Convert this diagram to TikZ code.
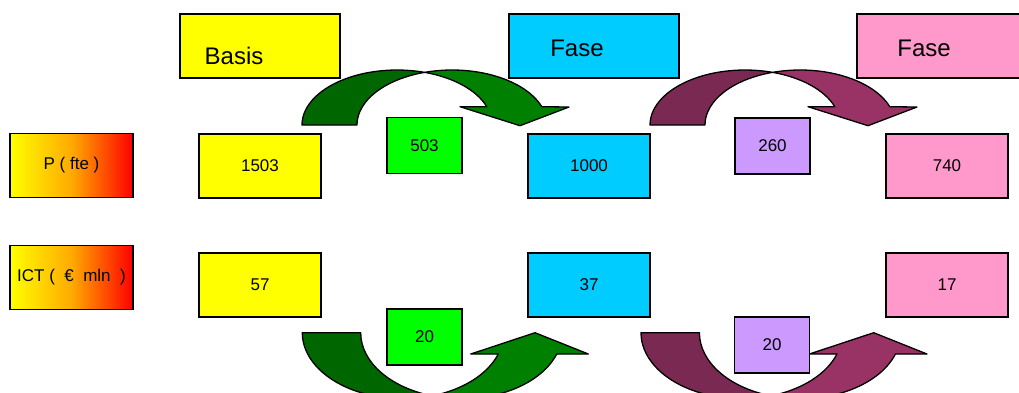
\documentclass[tikz,border=0pt]{standalone}
\usepackage{fontspec}
\setmainfont{Liberation Sans}
\usepackage{xcolor}
\usetikzlibrary{positioning}
\definecolor{basisyellow}{RGB}{255,255,0}
\definecolor{fasecyan}{RGB}{0,204,255}
\definecolor{fasepink}{RGB}{255,153,204}
\definecolor{stepgreen}{RGB}{0,255,0}
\definecolor{steplilac}{RGB}{204,153,255}
\definecolor{greendark}{RGB}{0,102,0}
\definecolor{greenlight}{RGB}{0,128,0}
\definecolor{plumdark}{RGB}{122,42,82}
\definecolor{plumlight}{RGB}{153,51,102}
\definecolor{labelorange}{RGB}{255,170,0}

% bent arrow over the top: #1 back half, #2 front half
\newcommand{\bowover}[2]{%
  \filldraw[fill=#1] (302,125) arc[start angle=180, end angle=73.2, x radius=95.1pt, y radius=55pt]
    arc[start angle=106.8, end angle=180, x radius=95.1pt, y radius=55pt] -- cycle;
  \filldraw[fill=#2] (424.6,72.35) arc[start angle=106.8, end angle=19.43, x radius=95.1pt, y radius=55pt]
    -- (569,107) -- (520,125.7) -- (460,106.7) -- (486.8,106.7)
    arc[start angle=19.43, end angle=73.2, x radius=95.1pt, y radius=55pt] -- cycle;}
% bent arrow underneath
\newcommand{\bowunder}[2]{%
  \filldraw[fill=#1] (302.3,332.7) arc[start angle=180, end angle=286.86, x radius=100.7pt, y radius=66pt]
    arc[start angle=253.14, end angle=180, x radius=100.7pt, y radius=66pt] -- cycle;
  \filldraw[fill=#2] (432.2,395.9) arc[start angle=253.14, end angle=341.17, x radius=100.7pt, y radius=66pt]
    -- (588.3,354) -- (535,332.7) -- (470.7,354) -- (498.3,354)
    arc[start angle=341.17, end angle=286.86, x radius=100.7pt, y radius=66pt] -- cycle;}

\begin{document}
\begin{tikzpicture}[x=1pt, y=-1pt,
    bow/.style={line width=1.3pt, line join=round},
    head/.style={draw, line width=1.3pt, minimum width=160pt, minimum height=64pt, inner sep=0pt},
    headtext/.style={font=\fontsize{24}{28}\selectfont},
    valbox/.style={draw, line width=1.3pt, minimum width=122pt, minimum height=64pt,
                   inner sep=0pt, font=\fontsize{17}{20}\selectfont},
    stepbox/.style={valbox, minimum width=75pt, minimum height=56pt},
    rowlabel/.style={valbox, minimum width=123pt, left color=basisyellow,
                     right color=red, middle color=labelorange}
]
\useasboundingbox[fill=white] (0,0) rectangle (1019,392);

% arrows first, boxes on top
\begin{scope}[bow]
  \bowover{greendark}{greenlight}
  \bowunder{greendark}{greenlight}
\end{scope}
\begin{scope}[bow, xshift=348pt]
  \bowover{plumdark}{plumlight}
\end{scope}
\begin{scope}[bow, xshift=338.7pt]
  \bowunder{plumdark}{plumlight}
\end{scope}

% headers
\node[head, fill=basisyellow, label={[headtext, xshift=-26pt, yshift=-9.5pt]center:Basis}] (basis) at (260,46) {};
\node[head, fill=fasecyan, minimum width=170pt, label={[headtext, xshift=-17pt, yshift=-2pt]center:Fase}] (fase1) at (594,46) {};
\node[head, fill=fasepink, minimum width=170pt, label={[headtext, xshift=-18pt, yshift=-2pt]center:Fase}] (fase2) at (942,46) {};

% row labels
\node[rowlabel] (pfte) at (71.5,165.5) {P ( fte )};
\node[rowlabel] (ict) at (71.5,277.5) {ICT (~~€~~mln~~)};

% values
\node[valbox, fill=basisyellow] (v1503) at (260,166) {1503};
\node[valbox, fill=fasecyan] (v1000) at (589,166) {1000};
\node[valbox, fill=fasepink] (v740) at (947,166) {740};
\node[valbox, fill=basisyellow] (v57) at (260,285) {57};
\node[valbox, fill=fasecyan] (v37) at (589,285) {37};
\node[valbox, fill=fasepink] (v17) at (947,285) {17};

% steps
\node[stepbox, fill=stepgreen] (d503) at (424.5,145.5) {503};
\node[stepbox, fill=steplilac] (d260) at (772.5,146) {260};
\node[stepbox, fill=stepgreen] (d20a) at (424.5,337) {20};
\node[stepbox, fill=steplilac] (d20b) at (772,345) {20};
\end{tikzpicture}
\end{document}
